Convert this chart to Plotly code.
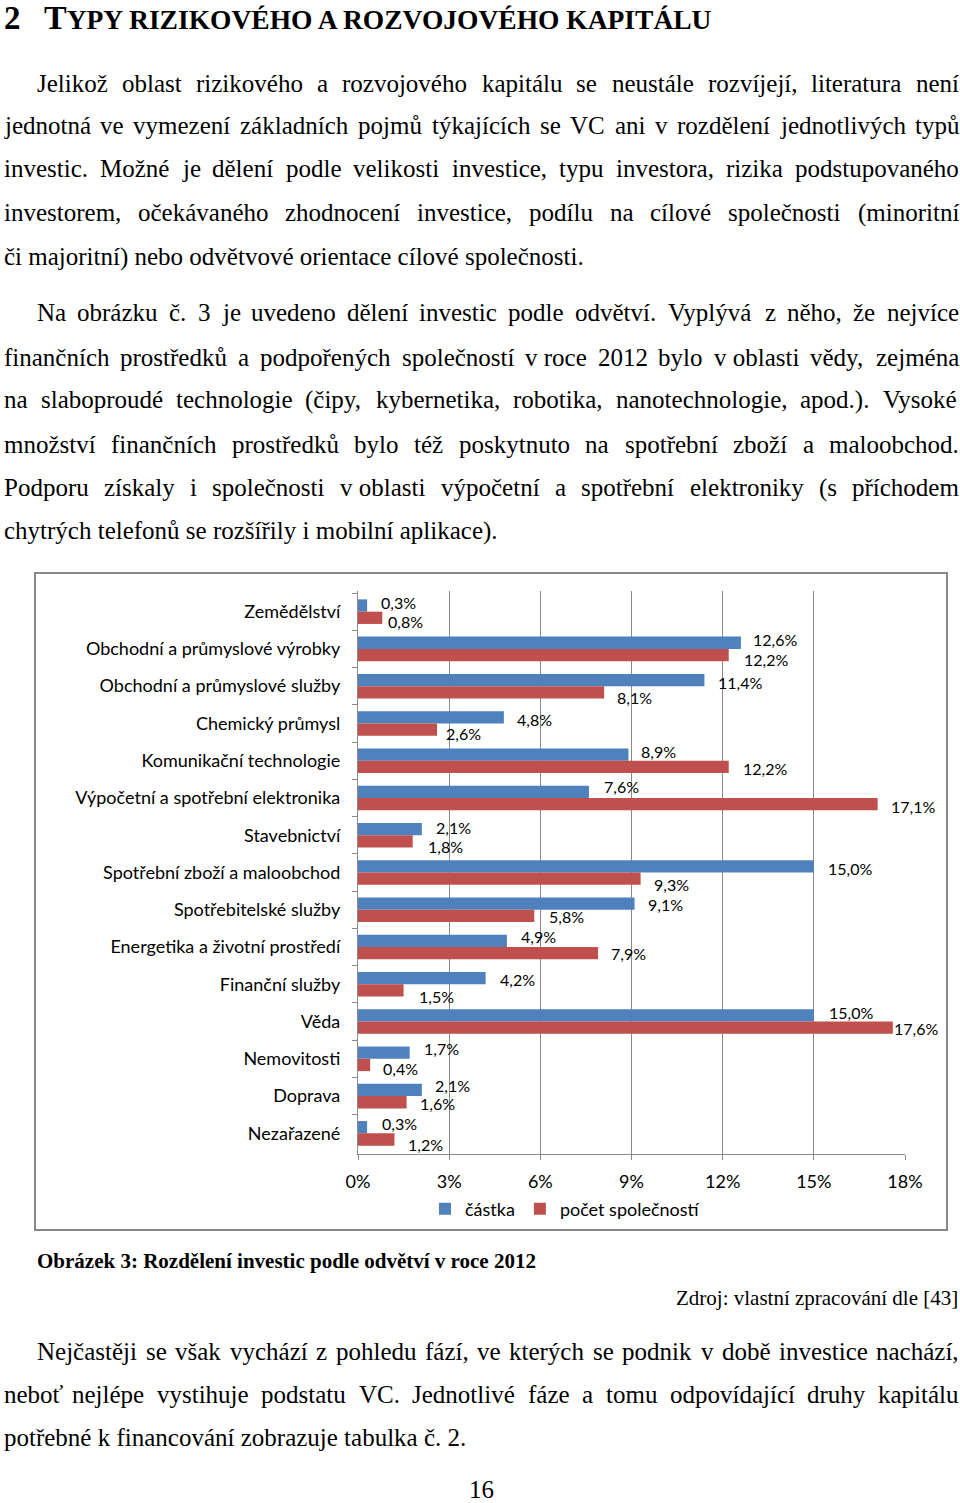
import unicodedata
import plotly.graph_objects as go

# ---------------- data ----------------
categories = [
    "Zemědělství", "Obchodní a průmyslové výrobky", "Obchodní a průmyslové služby",
    "Chemický průmysl", "Komunikační technologie", "Výpočetní a spotřební elektronika",
    "Stavebnictví", "Spotřební zboží a maloobchod", "Spotřebitelské služby",
    "Energetika a životní prostředí", "Finanční služby", "Věda", "Nemovitosti",
    "Doprava", "Nezařazené",
]
castka = [0.3, 12.6, 11.4, 4.8, 8.9, 7.6, 2.1, 15.0, 9.1, 4.9, 4.2, 15.0, 1.7, 2.1, 0.3]
pocet = [0.8, 12.2, 8.1, 2.6, 12.2, 17.1, 1.8, 9.3, 5.8, 7.9, 1.5, 17.6, 0.4, 1.6, 1.2]
series_names = ["částka", "počet společností"]
x_ticks = [0, 3, 6, 9, 12, 15, 18]

# label offsets (pixels) relative to default bar-end position
blue_dx = [13, 11, 13, 12, 12, 14, 13, 13, 12, 13, 13, 14, 13, 12, 14]
blue_dy = [-3, -3, 2, 2, -3.5, -5, -2, 2, 1, -4, 1, -3, -4, -4, -4]
red_dx = [5, 14, 12, 8, 13, 12, 14, 12, 14, 12, 14, 0, 12, 12, 13]
red_dy = [4, 4, 5, 4, 2, 2, 5, 6, 1, 0, 6, 1, 4, 1, 5]

# ---------------- page text ----------------
heading_num = "2"
heading_first = "T"
heading_rest = "YPY RIZIKOVÉHO A ROZVOJOVÉHO KAPITÁLU"

NB = "\u00a0"
body_lines = [
    # (text, y, indent, justify)
    ("Jelikož oblast rizikového a rozvojového kapitálu se neustále rozvíjejí, literatura není", 83, True, True),
    ("jednotná ve vymezení základních pojmů týkajících se VC ani v rozdělení jednotlivých typů", 126, False, True),
    ("investic. Možné je dělení podle velikosti investice, typu investora, rizika podstupovaného", 169, False, True),
    ("investorem, očekávaného zhodnocení investice, podílu na cílové společnosti (minoritní", 213, False, True),
    ("či majoritní) nebo odvětvové orientace cílové společnosti.", 257, False, False),
    ("Na obrázku č. 3 je uvedeno dělení investic podle odvětví. Vyplývá z něho, že nejvíce", 313, True, True),
    ("finančních prostředků a podpořených společností v" + NB + "roce 2012 bylo v" + NB + "oblasti vědy, zejména", 357, False, True),
    ("na slaboproudé technologie (čipy, kybernetika, robotika, nanotechnologie, apod.). Vysoké", 400, False, True),
    ("množství finančních prostředků bylo též poskytnuto na spotřební zboží a maloobchod.", 444, False, True),
    ("Podporu získaly i společnosti v" + NB + "oblasti výpočetní a spotřební elektroniky (s příchodem", 488, False, True),
    ("chytrých telefonů se rozšířily i mobilní aplikace).", 531, False, False),
    ("Nejčastěji se však vychází z pohledu fází, ve kterých se podnik v době investice nachází,", 1351, True, True),
    ("neboť nejlépe vystihuje podstatu VC. Jednotlivé fáze a tomu odpovídající druhy kapitálu", 1394, False, True),
    ("potřebné k financování zobrazuje tabulka č. 2.", 1437, False, False),
]
caption = "Obrázek 3: Rozdělení investic podle odvětví v roce 2012"
source = "Zdroj: vlastní zpracování dle [43]"
page_no = "16"

# ---------------- helpers ----------------
W, H = 960, 1503
def px(x):
    return x / W
def py(y):
    return 1 - y / H

TIMES = dict(zip("abcdefghijklmnopqrstuvwxyz",
                 [444, 500, 444, 500, 444, 333, 500, 500, 278, 278, 500, 278, 778,
                  500, 500, 500, 500, 333, 389, 278, 500, 500, 722, 500, 500, 444]))
TIMES.update(zip("ABCDEFGHIJKLMNOPQRSTUVWXYZ",
                 [722, 667, 667, 722, 611, 556, 722, 722, 333, 389, 722, 611, 889,
                  722, 722, 556, 722, 667, 556, 611, 722, 722, 944, 722, 722, 611]))
TIMES.update({c: 500 for c in "0123456789"})
TIMES.update({" ": 250, NB: 250, ".": 250, ",": 250, ":": 278, ";": 278, "(": 333, ")": 333,
              "[": 333, "]": 333, "-": 333, "%": 833})

def tw(s, size):
    tot = 0
    for c in s:
        b = unicodedata.normalize("NFD", c)[0]
        tot += TIMES.get(b, 500)
    return tot * size / 1000.0

BODY_FONT = dict(family="Liberation Serif", size=25, color="black")
LEFT, RIGHT, INDENT = 3, 958, 36

annotations = []
for text, y, indent, justify in body_lines:
    left = INDENT if indent else LEFT
    if not justify:
        annotations.append(dict(x=px(left), y=py(y), xref="paper", yref="paper", xanchor="left",
                                yanchor="middle", text=text, showarrow=False, font=BODY_FONT, borderpad=0))
        continue
    words = text.split(" ")
    widths = [tw(w, BODY_FONT["size"]) for w in words]
    gap = (RIGHT - left - sum(widths)) / (len(words) - 1)
    xpos = left
    for w, wd in zip(words, widths):
        annotations.append(dict(x=px(xpos), y=py(y), xref="paper", yref="paper", xanchor="left",
                                yanchor="middle", text=w, showarrow=False, font=BODY_FONT, borderpad=0))
        xpos += wd + gap

# heading
annotations.append(dict(x=px(3), y=py(18), xref="paper", yref="paper", xanchor="left", yanchor="middle",
                        text="<b>" + heading_num + "</b>", showarrow=False, borderpad=0,
                        font=dict(family="Liberation Serif", size=33, color="black")))
annotations.append(dict(x=px(43), y=py(18), xref="paper", yref="paper", xanchor="left", yanchor="middle",
                        text="<b><span style='font-size:34px'>" + heading_first + "</span>" + heading_rest + "</b>",
                        showarrow=False, borderpad=0,
                        font=dict(family="Liberation Serif", size=27.5, color="black")))
# caption / source / page number
annotations.append(dict(x=px(36), y=py(1261), xref="paper", yref="paper", xanchor="left", yanchor="middle",
                        text="<b>" + caption + "</b>", showarrow=False, borderpad=0,
                        font=dict(family="Liberation Serif", size=21, color="black")))
annotations.append(dict(x=px(959), y=py(1298), xref="paper", yref="paper", xanchor="right", yanchor="middle",
                        text=source, showarrow=False, borderpad=0,
                        font=dict(family="Liberation Serif", size=21, color="black")))
annotations.append(dict(x=px(481), y=py(1489), xref="paper", yref="paper", xanchor="center", yanchor="middle",
                        text=page_no, showarrow=False, borderpad=0, font=BODY_FONT))

# data labels
BAR_HALF = 6.15
LABEL_FONT = dict(family="Lato", size=16, color="black")
def fmt(v):
    return f"{v:.1f}".replace(".", ",") + "%"
for i, cat in enumerate(categories):
    annotations.append(dict(x=castka[i], y=cat, xref="x", yref="y", xanchor="left", yanchor="middle",
                            text=fmt(castka[i]), showarrow=False, borderpad=0, font=LABEL_FONT,
                            xshift=blue_dx[i], yshift=BAR_HALF - blue_dy[i]))
    annotations.append(dict(x=pocet[i], y=cat, xref="x", yref="y", xanchor="left", yanchor="middle",
                            text=fmt(pocet[i]), showarrow=False, borderpad=0, font=LABEL_FONT,
                            xshift=red_dx[i], yshift=-BAR_HALF - red_dy[i]))

# ---------------- figure ----------------
fig = go.Figure()
fig.add_trace(go.Bar(y=categories, x=castka, orientation="h", name=series_names[0],
                     marker=dict(color="#4F81BD", line=dict(width=0)), hoverinfo="skip"))
fig.add_trace(go.Bar(y=categories, x=pocet, orientation="h", name=series_names[1],
                     marker=dict(color="#C0504D", line=dict(width=0)), hoverinfo="skip"))

GRID = "#8a8a8a"
fig.update_layout(
    width=W, height=H, margin=dict(l=0, r=0, t=0, b=0, autoexpand=False), autosize=False,
    paper_bgcolor="white", plot_bgcolor="white",
    barmode="group", bargap=0.34, bargroupgap=0,
    font=dict(family="Lato", size=18, color="black"),
    xaxis=dict(domain=[px(358), px(905)], range=[0, 18], tickvals=x_ticks,
               ticktext=[f"{t}%" for t in x_ticks], showgrid=True, gridcolor=GRID, gridwidth=1.3,
               showline=True, linecolor=GRID, linewidth=1.3, ticks="outside", ticklen=5,
               tickcolor=GRID, tickwidth=1.3, zeroline=False, ticklabelstandoff=6,
               tickfont=dict(family="Lato", size=18, color="black"), fixedrange=True,
               automargin=False),
    yaxis=dict(domain=[py(1154), py(591)], type="category", categoryorder="array",
               categoryarray=categories, autorange="reversed", tickson="boundaries",
               ticks="outside", ticklen=5, tickcolor=GRID, tickwidth=1.3, showline=True,
               linecolor=GRID, linewidth=1.3, showgrid=False, ticklabelstandoff=13,
               tickfont=dict(family="Lato", size=18, color="black"), fixedrange=True,
               automargin=False),
    legend=dict(orientation="h", x=px(565), xanchor="center", y=py(1209), yanchor="middle",
                font=dict(family="Lato", size=18, color="black"), bgcolor="rgba(0,0,0,0)",
                traceorder="normal", itemwidth=30),
    annotations=annotations,
    shapes=[dict(type="rect", xref="paper", yref="paper", x0=px(35), x1=px(947),
                 y0=py(1230), y1=py(573), line=dict(color="#878787", width=2), layer="below")],
)
page_css = ("document.documentElement.style.margin='0';document.body.style.margin='0';"
            "document.body.style.padding='0';document.documentElement.style.overflow='hidden';"
            "document.body.style.overflow='hidden';")
fig.write_html("out.html", config={"responsive": False, "displayModeBar": False}, post_script=page_css)
